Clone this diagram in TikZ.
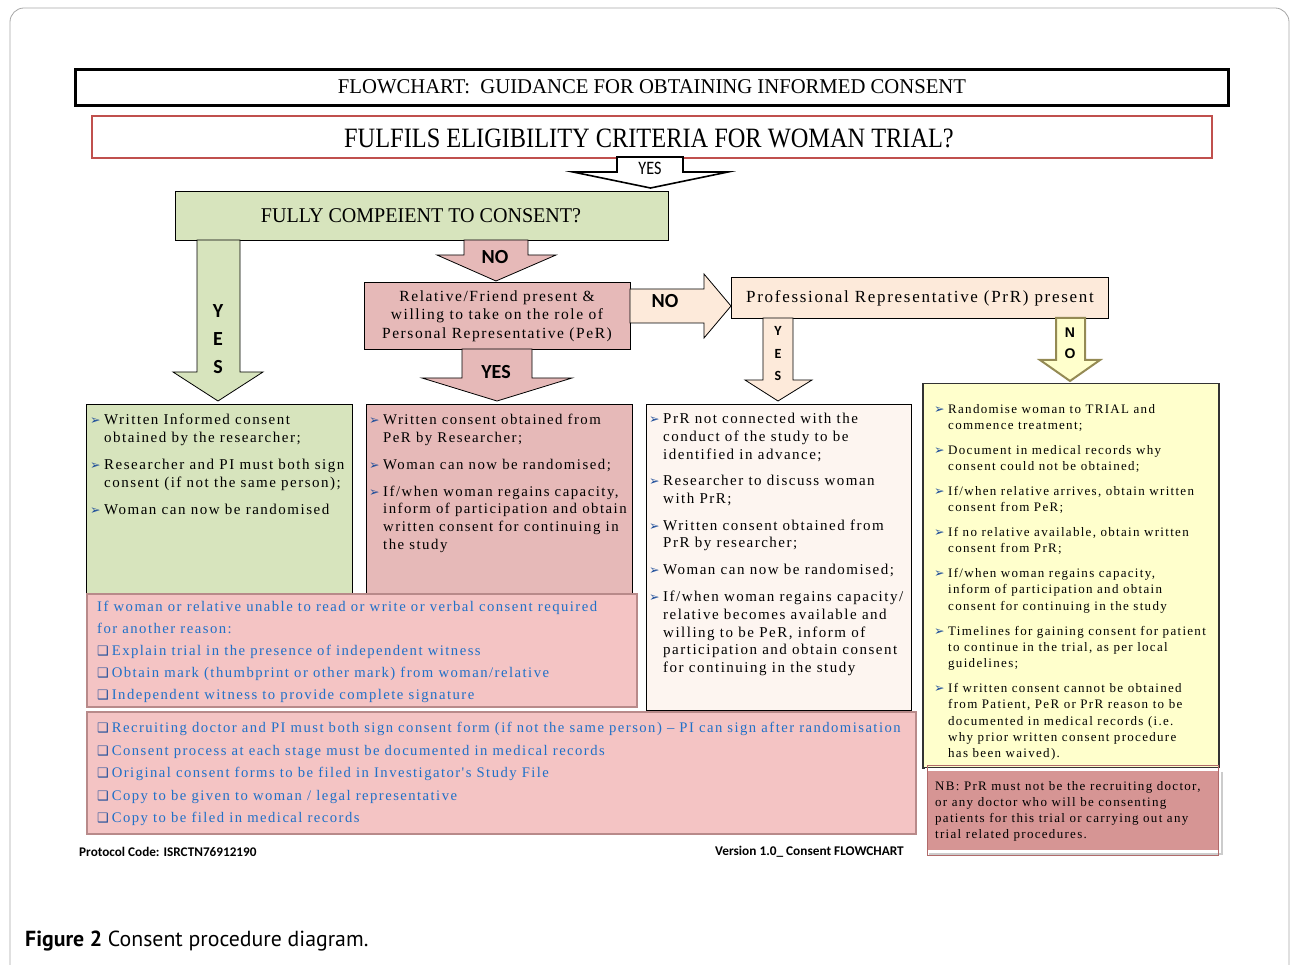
\documentclass[tikz,border=0pt]{standalone}
\usepackage{fontspec}
\usepackage{graphicx}
\setmainfont{Liberation Serif}
\newfontfamily\bodyf[LetterSpace=10]{Liberation Serif}
\newfontfamily\calib{Carlito}
\newfontfamily\arialf{Liberation Sans}
\newfontfamily\dejavu{DejaVu Sans}
\newfontfamily\capf{PT Sans}
\definecolor{greenf}{HTML}{D7E4BD}
\definecolor{pinkf}{HTML}{E6B9B8}
\definecolor{peachf}{HTML}{FDEADA}
\definecolor{peachl}{HTML}{FDF5F0}
\definecolor{yellowf}{HTML}{FFFFCC}
\definecolor{olive}{HTML}{948A54}
\definecolor{overf}{HTML}{F4C4C4}
\definecolor{overd}{HTML}{B88A8A}
\definecolor{bluet}{HTML}{2070C8}
\definecolor{bulblue}{HTML}{1F4E9A}
\definecolor{nbf}{HTML}{D69594}
\definecolor{nbd}{HTML}{B06A6A}
\definecolor{redb}{HTML}{C0504D}
\newcommand\bl{\makebox[14pt][l]{\textcolor{bulblue}{\dejavu\fontsize{12.5}{12}\selectfont ➢}}}
\newcommand\ii{\hspace*{14pt}}
\newcommand\cb{\textcolor{bulblue}{\dejavu\fontsize{13}{13}\selectfont ❑}\hspace{3pt}}
\tikzset{
  boxb/.style={draw=black, line width=1pt},
  arr/.style={draw=black, line width=0.8pt, line join=miter},
  txt/.style={inner sep=0pt, anchor=north west, align=left},
  over/.style={fill=overf, draw=overd, line width=2pt},
  lbl/.style={inner sep=0pt, font=\calib\bfseries\fontsize{20}{20}\selectfont}
}
\begin{document}
\begin{tikzpicture}[x=1pt,y=-1pt]
\useasboundingbox (0,0) rectangle (1291,965);
% outer frame
\draw[gray!70, line width=0.8pt, rounded corners=14pt] (10,980) -- (10,8) -- (1289,8) -- (1289,980);

% title
\node[draw=black, line width=2.6pt, minimum width=1153pt, minimum height=36pt, anchor=north west, inner sep=0pt] (title) at (74,68) {};
\node[inner sep=0pt] (titlet) at (652,87) {\fontsize{21}{21}\selectfont\scalebox{0.985}[1]{FLOWCHART:\ \ GUIDANCE FOR OBTAINING INFORMED CONSENT}};

% eligibility
\node[draw=redb, line width=2pt, fill=white, minimum width=1120pt, minimum height=42pt, anchor=north west, inner sep=0pt] (elig) at (91,115) {};
\node[inner sep=0pt] (eligt) at (649,138) {\fontsize{28}{28}\selectfont\scalebox{0.87}[1]{FULFILS ELIGIBILITY CRITERIA FOR WOMAN TRIAL?}};

% YES black arrow
\draw[arr, fill=white, line width=1.6pt] (617,157) -- (683,157) -- (683,172) -- (728,172) -- (650.5,188) -- (573,172) -- (617,172) -- cycle;
\node[inner sep=0pt] (yes0) at (650,168) {\calib\fontsize{19}{19}\selectfont\scalebox{0.85}[1]{YES}};

% fully competent
\node[boxb, fill=greenf, minimum width=493pt, minimum height=49pt, anchor=north west, inner sep=0pt] (comp) at (175,191) {};
\node[inner sep=0pt] (compt) at (421,216) {\fontsize{21}{21}\selectfont\scalebox{0.955}[1]{FULLY COMPEIENT TO CONSENT?}};

% green YES arrow
\draw[arr, fill=greenf] (197,240) -- (240,240) -- (240,372) -- (263,372) -- (218,401) -- (173,372) -- (197,372) -- cycle;
\node[lbl] (gy) at (218,311) {Y};
\node[lbl] (ge) at (218,339) {E};
\node[lbl] (gs) at (218,367) {S};

% pink NO arrow
\draw[arr, fill=pinkf] (464,240) -- (528,240) -- (528,255) -- (556,255) -- (496,281) -- (437,255) -- (464,255) -- cycle;
\node[lbl] (pno) at (495,257) {NO};

% relative box
\node[boxb, fill=pinkf, minimum width=266pt, minimum height=67pt, anchor=north west, inner sep=0pt] (rel) at (364,282) {};
\node[inner sep=0pt, align=center, font=\bodyf\fontsize{15.5}{18.5}\selectfont] (relt) at (497,316) {Relative/Friend present \&\\willing to take on the role of\\Personal Representative (PeR)};

% pink YES arrow
\draw[arr, fill=pinkf] (462,349) -- (532,349) -- (532,378) -- (572,378) -- (497,401) -- (422,378) -- (462,378) -- cycle;
\node[lbl] (pyes) at (496,372) {YES};

% NO right arrow
\draw[arr, fill=peachf] (630,289) -- (704,289) -- (704,274) -- (731,306) -- (704,338) -- (704,323) -- (630,323) -- cycle;
\node[lbl] (rno) at (665,301) {NO};

% PrR box
\node[boxb, fill=peachf, minimum width=377pt, minimum height=41pt, anchor=north west, inner sep=0pt] (prr) at (731,277) {};
\node[inner sep=0pt, font=\bodyf\fontsize{17}{17}\selectfont] (prrt) at (920,298) {Professional Representative (PrR) present};

% peach YES arrow
\draw[arr, fill=peachf] (763,318) -- (793,318) -- (793,380) -- (812,380) -- (778,401) -- (745,380) -- (763,380) -- cycle;
\node[inner sep=0pt, font=\calib\bfseries\fontsize{14}{14}\selectfont] (qy) at (778,331) {Y};
\node[inner sep=0pt, font=\calib\bfseries\fontsize{14}{14}\selectfont] (qe) at (778,354) {E};
\node[inner sep=0pt, font=\calib\bfseries\fontsize{14}{14}\selectfont] (qs) at (778,376) {S};

% yellow NO arrow
\draw[draw=olive, line width=2pt, fill=yellowf] (1056,318) -- (1085,318) -- (1085,360) -- (1100,360) -- (1070,381) -- (1040,360) -- (1056,360) -- cycle;
\node[inner sep=0pt, font=\arialf\bfseries\fontsize{14}{14}\selectfont] (yn) at (1070,333) {N};
\node[inner sep=0pt, font=\arialf\bfseries\fontsize{14}{14}\selectfont] (yo) at (1070,354) {O};

% content boxes
\node[boxb, fill=greenf, minimum width=266pt, minimum height=200pt, anchor=north west, inner sep=0pt] (gbox) at (86,404) {};
\node[boxb, fill=pinkf, minimum width=266pt, minimum height=200pt, anchor=north west, inner sep=0pt] (pbox) at (366,404) {};
\node[boxb, fill=peachl, minimum width=265pt, minimum height=306pt, anchor=north west, inner sep=0pt] (qbox) at (646,404) {};
\node[boxb, line width=1.5pt, draw=black!80, fill=yellowf, minimum width=296pt, minimum height=384pt, anchor=north west, inner sep=0pt] (ybox) at (922,383) {};

\node[txt, font=\bodyf\fontsize{15}{18}\selectfont] (gtext) at (90,414) {%
\bl Written Informed consent\\ \ii obtained by the researcher;\\[9pt]
\bl Researcher and PI must both sign\\ \ii consent (if not the same person);\\[9pt]
\bl Woman can now be randomised};

\node[txt, font=\bodyf\fontsize{14.8}{17.8}\selectfont] (ptext) at (369,414) {%
\bl Written consent obtained from\\ \ii PeR by Researcher;\\[9pt]
\bl Woman can now be randomised;\\[9pt]
\bl If/when woman regains capacity,\\ \ii inform of participation and obtain\\ \ii written consent for continuing in\\ \ii the study};

\node[txt, font=\bodyf\fontsize{15}{17.8}\selectfont] (qtext) at (649,413) {%
\bl PrR not connected with the\\ \ii conduct of the study to be\\ \ii identified in advance;\\[8.5pt]
\bl Researcher to discuss woman\\ \ii with PrR;\\[9pt]
\bl Written consent obtained from\\ \ii PrR by researcher;\\[9pt]
\bl Woman can now be randomised;\\[9pt]
\bl If/when woman regains capacity/\\ \ii relative becomes available and\\ \ii willing to be PeR, inform of\\ \ii participation and obtain consent\\ \ii for continuing in the study};

\node[txt, font=\bodyf\fontsize{13}{16.3}\selectfont] (ytext) at (934,404) {%
\bl Randomise woman to TRIAL and\\ \ii commence treatment;\\[8.5pt]
\bl Document in medical records why\\ \ii consent could not be obtained;\\[8.5pt]
\bl If/when relative arrives, obtain written\\ \ii consent from PeR;\\[8.5pt]
\bl If no relative available, obtain written\\ \ii consent from PrR;\\[8.5pt]
\bl If/when woman regains capacity,\\ \ii inform of participation and obtain\\ \ii consent for continuing in the study\\[8.5pt]
\bl Timelines for gaining consent for patient\\ \ii to continue in the trial, as per local\\ \ii guidelines;\\[8.5pt]
\bl If written consent cannot be obtained\\ \ii from Patient, PeR or PrR reason to be\\ \ii documented in medical records (i.e.\\ \ii why prior written consent procedure\\ \ii has been waived).};

% NB box
\fill[black!20] (929,772) rectangle (1223,855);
\node[draw=white, line width=3pt, fill=nbf, minimum width=293pt, minimum height=82pt, anchor=north west, inner sep=0pt] (nb) at (925,768) {};
\draw[nbd, line width=1pt] ([shift={(2.5,-2.5)}]nb.north west) rectangle ([shift={(-2.5,2.5)}]nb.south east);
\node[txt, font=\bodyf\fontsize{13}{16}\selectfont] (nbt) at (935,781) {%
NB: PrR must not be the recruiting doctor,\\ or any doctor who will be consenting\\ patients for this trial or carrying out any\\ trial related procedures.};

% overlay 1
\node[over, minimum width=550pt, minimum height=113pt, anchor=north west, inner sep=0pt] (ov1) at (86,593) {};
\node[txt, text=bluet, font=\bodyf\fontsize{14.7}{22}\selectfont] (ov1t) at (97,601) {%
If woman or relative unable to read or write or verbal consent required\\
for another reason:\\
\cb Explain trial in the presence of independent witness\\
\cb Obtain mark (thumbprint or other mark) from woman/relative\\
\cb Independent witness to provide complete signature};

% overlay 2
\node[over, minimum width=829pt, minimum height=122pt, anchor=north west, inner sep=0pt] (ov2) at (86,711) {};
\node[txt, text=bluet, font=\bodyf\fontsize{14.65}{22.5}\selectfont] (ov2t) at (97,722) {%
\cb Recruiting doctor and PI must both sign consent form (if not the same person) – PI can sign after randomisation\\
\cb Consent process at each stage must be documented in medical records\\
\cb Original consent forms to be filed in Investigator's Study File\\
\cb Copy to be given to woman / legal representative\\
\cb Copy to be filed in medical records};

% footer
\node[inner sep=0pt, anchor=west, font=\calib\bfseries\fontsize{13.2}{13.2}\selectfont] (foot1) at (79,852) {Protocol Code: ISRCTN76912190};
\node[inner sep=0pt, anchor=east, font=\calib\bfseries\fontsize{13.3}{13.3}\selectfont] (foot2) at (904,852) {Version 1.0\_ Consent FLOWCHART};

% caption
\node[inner sep=0pt, anchor=west, font=\capf\fontsize{21.8}{21.8}\selectfont] (cap) at (25,941) {\textbf{Figure 2} Consent procedure diagram.};
\end{tikzpicture}
\end{document}
